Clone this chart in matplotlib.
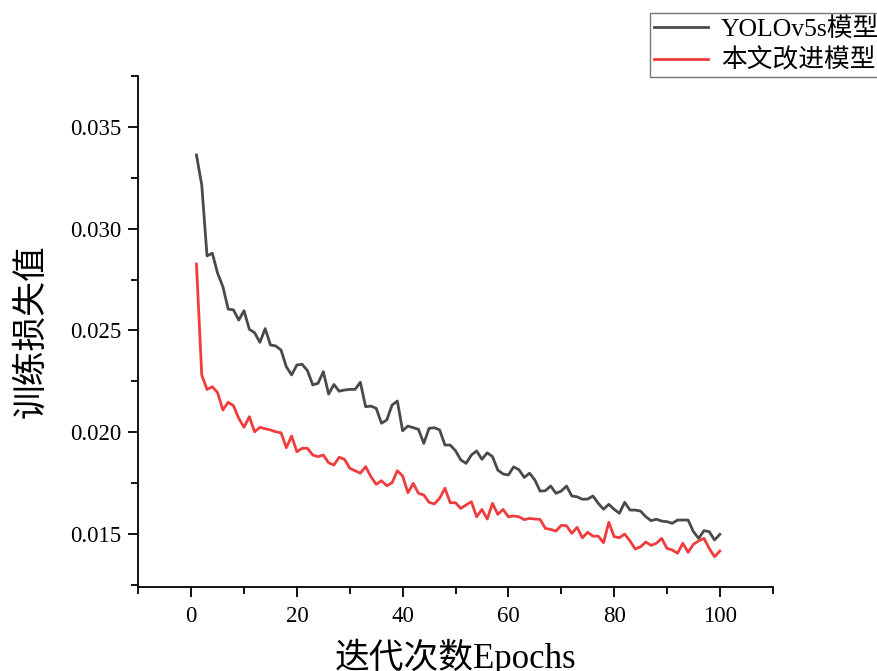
import matplotlib
matplotlib.use("Agg")
import matplotlib.pyplot as plt
from matplotlib.ticker import MultipleLocator

epochs = list(range(1, 101))

yolov5s_loss = [
    0.03361, 0.03214, 0.02866, 0.02879, 0.02781, 0.02715, 0.02605, 0.02601, 0.02551, 0.02597,
    0.02506, 0.02489, 0.02442, 0.02509, 0.02429, 0.02424, 0.02404, 0.02322, 0.02282, 0.02331,
    0.02334, 0.02303, 0.02233, 0.02241, 0.02298, 0.02188, 0.02235, 0.02202, 0.02208, 0.02211,
    0.02211, 0.02246, 0.02126, 0.02129, 0.02118, 0.02045, 0.02061, 0.02134, 0.02154, 0.02008,
    0.02031, 0.02023, 0.02015, 0.01946, 0.02020, 0.02023, 0.02012, 0.01938, 0.01938, 0.01910,
    0.01865, 0.01848, 0.01889, 0.01909, 0.01868, 0.01900, 0.01881, 0.01815, 0.01796, 0.01791,
    0.01831, 0.01817, 0.01779, 0.01800, 0.01767, 0.01712, 0.01714, 0.01737, 0.01701, 0.01712,
    0.01737, 0.01688, 0.01684, 0.01672, 0.01673, 0.01688, 0.01652, 0.01623, 0.01647, 0.01623,
    0.01603, 0.01657, 0.01619, 0.01619, 0.01614, 0.01586, 0.01567, 0.01574, 0.01565, 0.01562,
    0.01554, 0.01570, 0.01570, 0.01570, 0.01513, 0.01480, 0.01518, 0.01513, 0.01472, 0.01500,
]

improved_loss = [
    0.02826, 0.02282, 0.02211, 0.02224, 0.02195, 0.02110, 0.02148, 0.02131, 0.02069, 0.02025,
    0.02077, 0.02003, 0.02025, 0.02018, 0.02012, 0.02003, 0.01998, 0.01925, 0.01982, 0.01905,
    0.01922, 0.01922, 0.01889, 0.01881, 0.01889, 0.01851, 0.01840, 0.01878, 0.01868, 0.01824,
    0.01812, 0.01800, 0.01832, 0.01783, 0.01745, 0.01763, 0.01738, 0.01753, 0.01812, 0.01786,
    0.01704, 0.01750, 0.01701, 0.01693, 0.01657, 0.01649, 0.01677, 0.01726, 0.01655, 0.01655,
    0.01627, 0.01644, 0.01660, 0.01586, 0.01622, 0.01575, 0.01652, 0.01598, 0.01622, 0.01586,
    0.01590, 0.01586, 0.01572, 0.01578, 0.01575, 0.01573, 0.01529, 0.01524, 0.01516, 0.01544,
    0.01542, 0.01505, 0.01534, 0.01483, 0.01510, 0.01491, 0.01491, 0.01459, 0.01559, 0.01489,
    0.01483, 0.01501, 0.01468, 0.01428, 0.01439, 0.01462, 0.01446, 0.01456, 0.01480, 0.01431,
    0.01423, 0.01407, 0.01456, 0.01412, 0.01451, 0.01468, 0.01480, 0.01431, 0.01390, 0.01418,
]

series_labels = ["YOLOv5s模型", "本文改进模型"]
x_label = "迭代次数Epochs"
y_label = "训练损失值"

fam = ["Liberation Serif", "Noto Sans CJK SC", "DejaVu Sans"]
plt.rcParams["font.family"] = fam

fig = plt.figure(figsize=(8.77, 6.71), dpi=100)
ax = fig.add_axes([138.3 / 877, 1 - 586.7 / 671, (772.7 - 138.3) / 877, (586.7 - 75.7) / 671])

ax.plot(epochs, yolov5s_loss, color="#4a4a4a", lw=2.0, label=series_labels[0])
ax.plot(epochs, improved_loss, color="#f03c3c", lw=2.0, label=series_labels[1])

ax.set_xlim(-10, 110)
ax.set_ylim(0.01243, 0.0375)
ax.xaxis.set_major_locator(MultipleLocator(20))
ax.xaxis.set_minor_locator(MultipleLocator(10))
ax.yaxis.set_major_locator(MultipleLocator(0.005))
ax.yaxis.set_minor_locator(MultipleLocator(0.0025))
ax.yaxis.set_major_formatter(matplotlib.ticker.FormatStrFormatter("%.3f"))

for s in ["top", "right"]:
    ax.spines[s].set_visible(False)
for s in ["left", "bottom"]:
    ax.spines[s].set_linewidth(1.3)
    ax.spines[s].set_color("black")

ax.tick_params(axis="both", which="major", direction="out", length=7, width=1.3,
               labelsize=16.5, colors="black")
ax.tick_params(axis="both", which="minor", direction="out", length=5, width=1.3)
ax.tick_params(axis="x", which="major", pad=7)
ax.tick_params(axis="y", which="major", pad=5)

ax.set_xlabel(x_label, fontsize=25, labelpad=8)
ax.set_ylabel(y_label, fontsize=25, labelpad=16)

leg = fig.legend(loc="upper left", bbox_to_anchor=(650 / 877, 1 - 13 / 671),
                 borderaxespad=0, fontsize=18.5, frameon=True, fancybox=False,
                 edgecolor="#555555", handlelength=2.1, handletextpad=0.5,
                 borderpad=0.15, labelspacing=0.3)
leg.get_frame().set_linewidth(1.0)

fig.savefig("out.png", dpi=100)
